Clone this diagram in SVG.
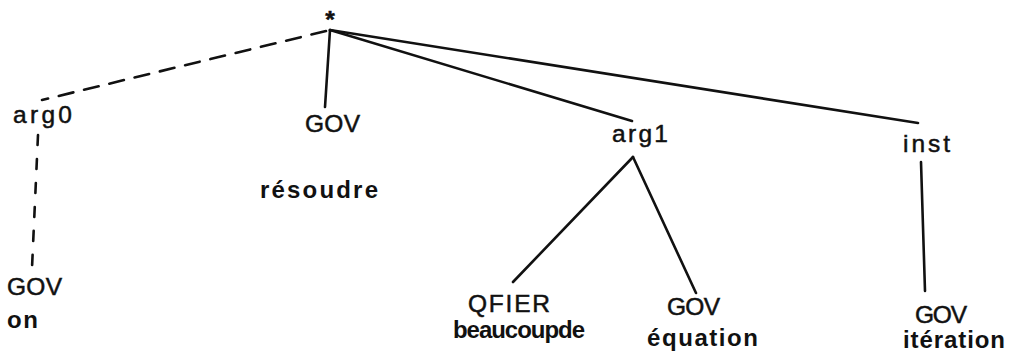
<svg xmlns="http://www.w3.org/2000/svg" width="1010" height="362" viewBox="0 0 1010 362">
<style>
  .lbl { font-family: "Liberation Sans", Arial, sans-serif; font-size: 24.5px; fill: #111; stroke: #111; stroke-width: 0.5; }
  .word { font-family: "Liberation Sans", Arial, sans-serif; font-size: 24px; font-weight: bold; fill: #111; }
  .edge { stroke: #111; stroke-width: 2.6; fill: none; stroke-linecap: round; }
  .dash1 { stroke-dasharray: 15 11; }
  .dash2 { stroke-dasharray: 10 14; }
</style>
<rect width="1010" height="362" fill="#fff"/>
<g id="connectors">
  <line class="edge dash1" x1="326" y1="31" x2="42" y2="100"/>
  <line class="edge dash2" x1="38" y1="135" x2="32" y2="268"/>
  <line class="edge" x1="330" y1="30" x2="325" y2="107"/>
  <line class="edge" x1="330" y1="30" x2="632" y2="121"/>
  <line class="edge" x1="330" y1="30" x2="918" y2="123"/>
  <line class="edge" x1="633" y1="157" x2="513" y2="282"/>
  <line class="edge" x1="633" y1="157" x2="696" y2="293"/>
  <line class="edge" x1="921" y1="162" x2="925" y2="291"/>
</g>
<g id="root"><text class="lbl" x="330" y="28" text-anchor="middle" font-weight="bold" font-size="22">*</text></g>
<g id="arg0"><text class="lbl" x="13" y="123" textLength="59" lengthAdjust="spacing">arg0</text></g>
<g id="gov-resoudre">
  <text class="lbl" x="305" y="132" textLength="55" lengthAdjust="spacing">GOV</text>
  <text class="word" x="260" y="198" textLength="118" lengthAdjust="spacing">résoudre</text>
</g>
<g id="arg1"><text class="lbl" x="612" y="142" textLength="56" lengthAdjust="spacing">arg1</text></g>
<g id="inst"><text class="lbl" x="903" y="152" textLength="47" lengthAdjust="spacing">inst</text></g>
<g id="gov-on">
  <text class="lbl" x="7" y="295" textLength="55" lengthAdjust="spacing">GOV</text>
  <text class="word" x="7" y="328" font-size="25" textLength="31" lengthAdjust="spacing">on</text>
</g>
<g id="qfier">
  <text class="lbl" x="468" y="312" textLength="82" lengthAdjust="spacing">QFIER</text>
  <text class="word" x="453" y="338" font-size="22" textLength="132" lengthAdjust="spacing">beaucoupde</text>
</g>
<g id="gov-equation">
  <text class="lbl" x="667" y="315" textLength="53" lengthAdjust="spacing">GOV</text>
  <text class="word" x="647" y="346" textLength="111" lengthAdjust="spacing">équation</text>
</g>
<g id="gov-iteration">
  <text class="lbl" x="915" y="323" textLength="52" lengthAdjust="spacing">GOV</text>
  <text class="word" x="903" y="348" font-size="23" textLength="102" lengthAdjust="spacing">itération</text>
</g>
</svg>
